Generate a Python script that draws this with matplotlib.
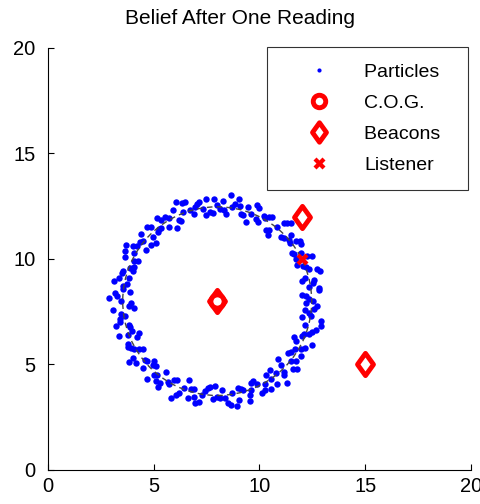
import matplotlib
matplotlib.use("Agg")
import matplotlib.pyplot as plt
from matplotlib.patches import Circle
from matplotlib.path import Path

plt.rcParams['font.family'] = ['Liberation Sans', 'DejaVu Sans']

# particle cloud
part_x = [
    12.55, 12.19, 12.82, 12.35, 12.60, 12.15, 12.71, 12.20, 11.79, 12.23,
    11.94, 11.52, 11.92, 11.42, 11.49, 11.04, 11.31, 10.83, 10.44, 10.59,
    10.28, 9.91, 9.97, 9.58, 9.45, 9.11, 9.03, 8.70, 8.43, 8.25,
    8.00, 7.78, 7.49, 7.31, 7.02, 6.89, 6.47, 6.39, 6.31, 5.90,
    5.72, 5.71, 5.15, 5.23, 4.85, 4.96, 4.40, 4.50, 4.64, 4.02,
    4.06, 4.26, 3.62, 3.89, 3.53, 3.85, 3.10, 3.55, 3.87, 3.26,
    3.45, 3.81, 3.05, 3.65, 3.40, 3.85, 3.35, 3.80, 4.21, 3.77,
    4.06, 4.48, 4.00, 4.58, 4.51, 4.96, 4.69, 5.17, 5.56, 5.30,
    5.72, 6.09, 6.03, 6.42, 6.60, 6.89, 6.97, 7.30, 7.57, 7.80,
    8.00, 8.22, 8.51, 8.69, 9.05, 9.11, 9.53, 9.61, 9.69, 10.10,
    10.28, 10.29, 10.85, 10.77, 11.15, 11.04, 11.60, 11.50, 11.36, 11.98,
    11.94, 11.74, 12.50, 12.11, 12.47, 12.15, 12.90, 12.45, 12.13, 12.74,
    12.35, 12.81, 11.99, 12.34, 12.47, 11.62, 11.73, 11.16, 11.15, 10.32,
    10.20, 9.89, 9.21, 8.86, 8.34,
    7.87, 7.47, 6.93, 6.35, 6.17, 5.54, 5.35, 4.66, 4.88, 4.21,
    3.65, 4.07, 3.49, 3.72, 3.17,
    3.90, 3.44, 3.19, 3.99, 3.76, 4.29, 4.15, 5.03, 5.01, 5.20,
    5.97, 6.20, 6.76, 7.12, 7.68,
    8.12, 8.65, 8.99, 9.57, 9.87, 10.53, 10.50, 11.17, 11.76, 11.50,
    12.13, 12.02, 12.65, 12.03, 12.59,
    11.99, 12.54, 12.84, 12.05, 11.71, 11.94, 11.41, 11.51, 10.40, 10.45,
    9.85, 9.34, 9.08, 8.66, 8.11,
    7.67, 7.13, 6.73, 6.05, 6.12, 5.35, 5.21, 5.10, 4.33, 3.69,
    4.05, 4.02, 3.35, 3.56, 2.90,
    4.06, 3.40, 3.88, 4.30, 3.94, 3.84, 4.67, 5.10, 5.09, 5.66,
    5.80, 6.68, 6.91, 7.44, 7.90,
    8.36, 8.92, 9.24, 9.62, 10.28, 10.54, 11.31, 10.87, 11.71, 11.67,
    11.61, 12.35, 12.91, 12.34, 12.22,
]
part_y = [
    8.00, 8.22, 8.51, 8.69, 8.98, 9.11, 9.53, 9.61, 9.69, 10.16,
    10.28, 10.29, 10.85, 10.77, 11.15, 11.04, 11.68, 11.50, 11.36, 11.98,
    11.94, 11.74, 12.43, 12.11, 12.47, 12.15, 12.84, 12.45, 12.13, 12.74,
    12.55, 12.19, 12.82, 12.35, 12.60, 12.15, 12.71, 12.20, 11.79, 12.30,
    11.94, 11.52, 11.92, 11.42, 11.49, 11.04, 11.20, 10.83, 10.44, 10.59,
    10.28, 9.91, 10.08, 9.58, 9.45, 9.11, 8.95, 8.70, 8.43, 8.25,
    8.00, 7.78, 7.60, 7.31, 7.02, 6.89, 6.35, 6.39, 6.31, 5.84,
    5.72, 5.71, 5.30, 5.23, 4.85, 4.96, 4.32, 4.50, 4.64, 4.10,
    4.06, 4.26, 3.57, 3.89, 3.40, 3.85, 3.16, 3.55, 3.87, 3.35,
    3.45, 3.81, 3.18, 3.65, 3.30, 3.85, 3.29, 3.80, 4.21, 3.65,
    4.06, 4.48, 4.08, 4.58, 4.51, 4.96, 4.80, 5.17, 5.56, 5.41,
    5.72, 6.09, 5.90, 6.42, 6.55, 6.89, 7.05, 7.30, 7.57, 7.75,
    8.11, 8.63, 8.96, 9.54, 10.13, 10.22, 10.86, 11.00, 11.69, 11.38,
    12.04, 12.57, 12.07, 12.62, 12.34,
    12.85, 12.06, 12.47, 12.67, 11.84, 12.01, 11.45, 11.52, 10.66, 10.61,
    10.36, 9.63, 9.33, 8.79, 8.38,
    7.89, 7.40, 6.84, 6.58, 5.98, 5.73, 5.05, 5.18, 4.50, 3.92,
    4.27, 3.66, 3.83, 3.23, 3.91,
    3.40, 3.09, 3.87, 3.57, 4.07, 3.86, 4.75, 4.66, 4.79, 5.59,
    5.76, 6.34, 6.62, 7.25, 7.64,
    8.31, 8.84, 9.43, 9.68, 10.01, 10.71, 10.91, 11.70, 11.13, 11.99,
    11.88, 11.77, 12.49, 13.01, 12.38,
    12.21, 12.70, 12.30, 12.71, 11.47, 11.86, 11.27, 10.75, 10.81, 10.64,
    9.89, 9.41, 9.12, 8.58, 8.13,
    7.69, 7.15, 6.78, 6.47, 5.80, 5.14, 5.16, 4.94, 4.21, 4.18,
    3.40, 4.28, 3.45, 3.74, 4.00,
    3.39, 3.03, 3.80, 4.10, 3.80, 4.31, 4.12, 5.28, 5.15, 5.75,
    6.28, 6.46, 6.82, 7.43, 7.89,
]

cog_x, cog_y = [8], [8]
beacon_x = [8, 12, 15]
beacon_y = [8, 12, 5]
listener_x, listener_y = [12], [10]
range_radius = 4.47

fat_diamond = Path([(0, 1), (0.72, 0), (0, -1), (-0.72, 0), (0, 1)],
                   [Path.MOVETO, Path.LINETO, Path.LINETO, Path.LINETO, Path.CLOSEPOLY])

fig = plt.figure(figsize=(4.81, 5.04), dpi=100)
ax = fig.add_axes([0.1, 0.0675, 0.879, 0.8375])

ax.plot(part_x, part_y, 'o', color='#0000ff', ms=4.6, mec='none', label='Particles')
ax.add_patch(Circle((beacon_x[0], beacon_y[0]), range_radius, fill=False,
                    ec='#444444', lw=1.0, ls=(0, (4, 3)), zorder=3))
ax.plot(beacon_x, beacon_y, ls='none', marker=fat_diamond, ms=16, mfc='white',
        mec='red', mew=3.5, label='Beacons', zorder=4)
ax.plot(cog_x, cog_y, 'o', ms=9.5, mfc='white', mec='red', mew=3.5, label='C.O.G.', zorder=5)
ax.plot(listener_x, listener_y, 'X', ms=9, color='red', mec='none', label='Listener', zorder=6)

ax.set_xlim(0, 20)
ax.set_ylim(0, 20)
ax.set_xticks([0, 5, 10, 15, 20])
ax.set_yticks([0, 5, 10, 15, 20])
ax.spines['top'].set_visible(False)
ax.spines['right'].set_visible(False)
ax.tick_params(direction='in', length=4, labelsize=14.5)
ax.tick_params(axis='y', pad=9)
ax.tick_params(axis='x', pad=5)
fig.text(0.5, 1 - 18 / 504, 'Belief After One Reading', fontsize=15,
         ha='center', va='center')

h, l = ax.get_legend_handles_labels()
order = [0, 2, 1, 3]
leg = ax.legend([h[i] for i in order], ['Particles  ', 'C.O.G.', 'Beacons  ', 'Listener'],
                loc='upper right', bbox_to_anchor=(0.993, 1.002), fontsize=14,
                frameon=True, fancybox=False, edgecolor='black',
                handlelength=3.66, handletextpad=0.49, borderpad=0.85,
                labelspacing=0.68, borderaxespad=0.0)
leg.get_frame().set_linewidth(0.8)
leg.legend_handles[0].set_markersize(3)
leg.legend_handles[1].set_markersize(9)
leg.legend_handles[2].set_markersize(14)

fig.savefig('out.png', dpi=100)
